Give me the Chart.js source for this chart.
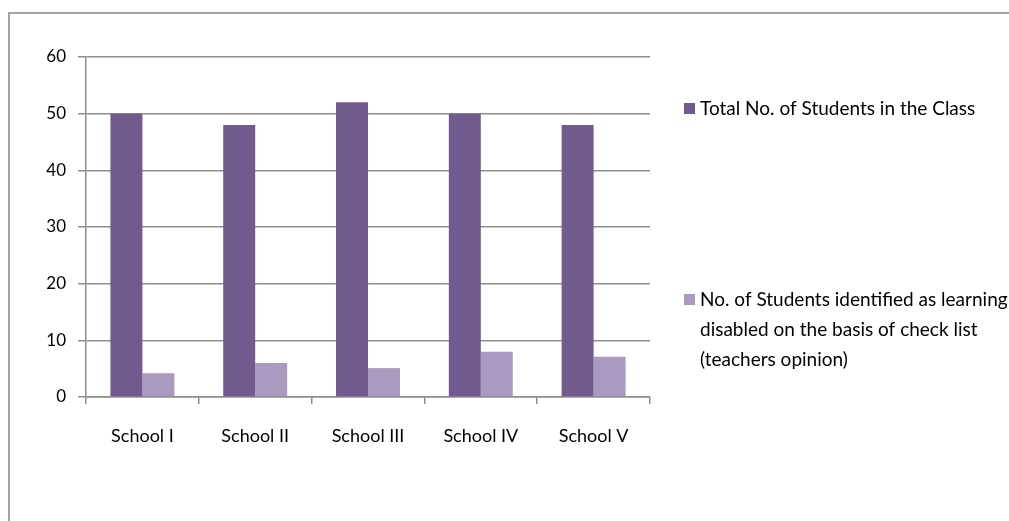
<!DOCTYPE html>
<html>
<head>
<meta charset="utf-8">
<script src="https://cdn.jsdelivr.net/npm/chart.js@4/dist/chart.umd.min.js"></script>
<style>
  html, body { margin: 0; padding: 0; background: #ffffff; }
  #wrap { position: relative; width: 1009px; height: 521px; overflow: hidden; }
</style>
</head>
<body>
<div id="wrap"><canvas id="chart" width="1009" height="521"></canvas></div>
<script>
// School categories along the x axis
const schools = ["School I", "School II", "School III", "School IV", "School V"];

// Total number of students in each class
const totalStudents = [50, 48, 52, 50, 48];

// Students identified as learning disabled from the check list
const disabledStudents = [4.2, 6, 5.1, 8, 7.1];

// Legend text, one entry per line
const totalLabelLines = ["Total No. of Students in the Class"];
const disabledLabelLines = [
  "No. of Students identified as learning",
  "disabled on the basis of check list",
  "(teachers opinion)"
];

// Y axis range and step
const yMin = 0;
const yMax = 60;
const yStep = 10;

const FONT = "Lato, 'Liberation Sans', sans-serif";
const GRID = "#8e8e8e";

// Outer frame around the chart
const framePlugin = {
  id: "frame",
  beforeDraw(chart) {
    const ctx = chart.ctx;
    ctx.save();
    ctx.strokeStyle = "#a3a3a3";
    ctx.lineWidth = 2;
    ctx.strokeRect(9, 13, 2000, 2000);
    ctx.restore();
  }
};

// Legend on the right, with wrapped lines for long entries
const sideLegend = {
  id: "sideLegend",
  afterDraw(chart) {
    const ctx = chart.ctx;
    const rows = [
      { lines: totalLabelLines, y: 109 },
      { lines: disabledLabelLines, y: 300 }
    ];
    ctx.save();
    ctx.font = "19px " + FONT;
    ctx.textBaseline = "middle";
    ctx.textAlign = "left";
    rows.forEach((row, i) => {
      const ds = chart.data.datasets[i];
      ctx.fillStyle = ds.backgroundColor;
      ctx.fillRect(684, row.y - 6, 11, 11);
      ctx.fillStyle = "#000000";
      row.lines.forEach((line, j) => {
        ctx.fillText(line, 700, row.y + j * 30);
      });
    });
    ctx.restore();
  }
};

new Chart(document.getElementById("chart"), {
  type: "bar",
  data: {
    labels: schools,
    datasets: [
      {
        label: totalLabelLines.join(" "),
        data: totalStudents,
        backgroundColor: "#725a8e",
        categoryPercentage: 0.567,
        barPercentage: 1.0
      },
      {
        label: disabledLabelLines.join(" "),
        data: disabledStudents,
        backgroundColor: "#a99bc0",
        categoryPercentage: 0.567,
        barPercentage: 1.0
      }
    ]
  },
  options: {
    responsive: false,
    animation: false,
    layout: { padding: { left: 0, top: 57, right: 359, bottom: 0 } },
    plugins: {
      legend: { display: false },
      tooltip: { enabled: false }
    },
    scales: {
      x: {
        offset: true,
        grid: {
          offset: true,
          drawOnChartArea: false,
          drawTicks: true,
          tickLength: 7,
          color: GRID,
          lineWidth: 1.5
        },
        border: { display: true, color: GRID, width: 1.5 },
        ticks: {
          color: "#000000",
          font: { family: FONT, size: 18 },
          padding: 21,
          maxRotation: 0
        },
        afterFit(scale) { scale.height = 124; }
      },
      y: {
        min: yMin,
        max: yMax,
        grid: {
          color: GRID,
          lineWidth: 1.5,
          drawTicks: true,
          tickLength: 8
        },
        border: { display: true, color: GRID, width: 1.5 },
        ticks: {
          stepSize: yStep,
          color: "#000000",
          font: { family: FONT, size: 17 },
          padding: 12
        },
        afterFit(scale) { scale.width = 86; }
      }
    }
  },
  plugins: [framePlugin, sideLegend]
});
</script>
</body>
</html>
